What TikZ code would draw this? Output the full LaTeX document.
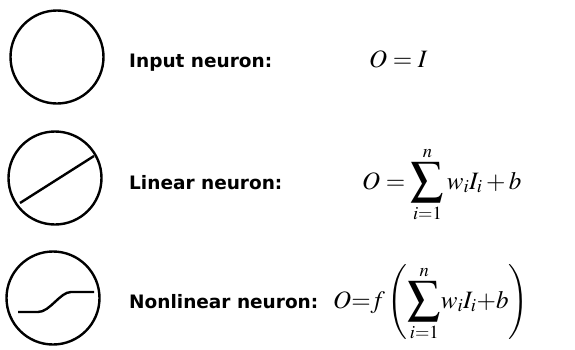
\documentclass[tikz,border=0pt]{standalone}
\usepackage{amsmath}
\usepackage{mathptmx}
\usepackage{fontspec}
\setmainfont{DejaVu Sans}
\usetikzlibrary{positioning}
\newcommand{\bigsum}{\mathop{\vcenter{\hbox{\scalebox{1.3}{$\displaystyle\sum$}}}}\limits}

\begin{document}
\begin{tikzpicture}[x=1pt,y=-1pt,
      neuron/.style={circle,draw,line width=2.4pt,minimum size=93pt,inner sep=0pt},
      curve/.style={line width=2.4pt},
      name text/.style={anchor=base west,inner sep=0pt,font=\fontsize{18.5}{22}\selectfont\bfseries},
      formula/.style={anchor=base west,inner sep=0pt,font=\fontsize{25}{30}\selectfont}]
      \useasboundingbox (0,0) rectangle (575,349);
      % neurons
      \node[neuron] (input) at (57,57) {};
      \node[neuron] (linear) at (55,178) {};
      \node[neuron] (nonlin) at (53,298) {};

      % transfer curves
      \coordinate (lin a) at (20,203);
      \coordinate (lin b) at (94,156);
      \draw[curve] (lin a) -- (lin b);
      \coordinate (sig a) at (18,312);
      \coordinate (sig b) at (94,292);
      \draw[curve] (sig a) -- ++(20,0) .. controls (50,312) and (60,292) .. ++(33,-20) -- (sig b);

      % labels
      \node[name text] (input label) at (129,67) {Input neuron:};
      \node[name text] (linear label) at (129,189) {Linear neuron:};
      \node[name text] (nonlin label) at (129,308) {Nonlinear neuron:};

      % formulas
      \node[formula] (input eq) at (369,67) {$O=I$};
      \node[formula] (linear eq) at (362,189) {$O=\bigsum_{i=1}^{n}w_iI_i+b$};
      \node[formula] (nonlin eq) at (333,308) {$O{=}f\left(\bigsum_{i=1}^{n}\!w_iI_i{+}b\right)$};
    \end{tikzpicture}
\end{document}
